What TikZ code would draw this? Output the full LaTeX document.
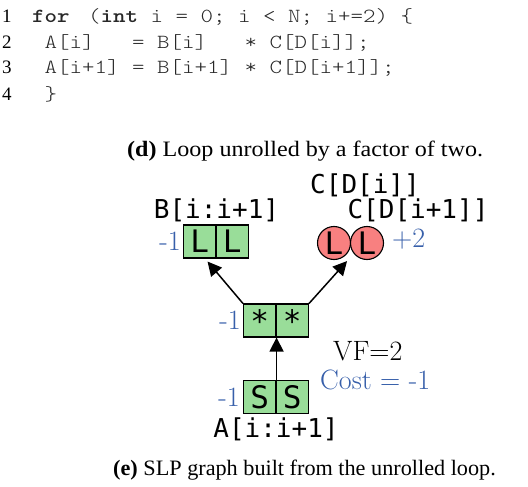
\documentclass[tikz,border=0pt]{standalone}
\usepackage{fontspec}
\usetikzlibrary{arrows.meta,calc}
\newfontfamily\capfont{Liberation Serif}
\newfontfamily\capfontd{Liberation Serif}[FakeStretch=1.095]
\newfontfamily\capfonte{Liberation Serif}[FakeStretch=1.01]
\newfontfamily\codefont{lmmonolt10-regular.otf}[BoldFont=lmmonolt10-bold.otf,FakeStretch=1.19]
\newfontfamily\lblfont{DejaVu Sans Mono}
\definecolor{lgreen}{RGB}{153,221,153}
\definecolor{lred}{RGB}{248,128,128}
\definecolor{cblue}{RGB}{55,95,170}
\definecolor{codegray}{RGB}{40,40,40}
\tikzset{
  gbox/.style={draw, fill=lgreen, line width=1.1pt, minimum width=32.5pt, minimum height=33pt, inner sep=0pt, font=\fontsize{31}{31}\lblfont},
  rcirc/.style={draw, circle, fill=lred, line width=1.1pt, minimum size=33pt, inner sep=0pt, font=\fontsize{31}{31}\lblfont},
  lbl/.style={inner sep=0pt, anchor=base, font=\fontsize{26}{26}\lblfont},
  cost/.style={inner sep=0pt, text=cblue, font=\fontsize{28}{28}\selectfont},
  codeline/.style={inner sep=0pt, anchor=base west, text=codegray, font=\fontsize{20}{20}\codefont},
  lnum/.style={inner sep=0pt, anchor=base west, font=\fontsize{19}{19}\capfont},
  arr/.style={line width=1.5pt, -{Triangle[length=14pt,width=14pt]}}
}
\begin{document}
\begin{tikzpicture}[x=1pt,y=-1pt]
\useasboundingbox (0,0) rectangle (528,487);
% code listing
\node[lnum] (n1) at (2,23) {1};
\node[lnum] (n2) at (2,49) {2};
\node[lnum] (n3) at (2,74) {3};
\node[lnum] (n4) at (2,100) {4};
\node[codeline] (c1) at (32,23) {\textbf{for}\hspace{6pt} (\textbf{int} i = 0; i < N; i+=2) \{};
\node[codeline] (c2) at (32,49) {\ A[i]\ \ \ = B[i]\ \ \ * C[D[i]];};
\node[codeline] (c3) at (32,74) {\ A[i+1] = B[i+1] * C[D[i+1]];};
\node[codeline] (c4) at (32,100) {\ \}};
\node[inner sep=0pt, anchor=base west, font=\fontsize{22}{22}\capfontd] (capd) at (127,157) {\textbf{(d)} Loop unrolled by a factor of two.};
% graph
\node[gbox] (L1) at (199.75,241.5) {L};
\node[gbox] (L2) at (232.25,241.5) {L};
\node[rcirc] (C1) at (334,243) {L};
\node[rcirc] (C2) at (367,243) {L};
\node[gbox] (M1) at (259.75,320.5) {*};
\node[gbox] (M2) at (292.25,320.5) {*};
\node[gbox] (S1) at (259.75,397) {S};
\node[gbox] (S2) at (292.25,397) {S};
\node[lbl] (tcd) at (365,193) {C[D[i]]};
\node[lbl] (tb) at (216.5,218) {B[i:i+1]};
\node[lbl] (tcd1) at (418,218) {C[D[i+1]]};
\node[lbl] (ta) at (276,437) {A[i:i+1]};
\node[cost, anchor=base east] (k1) at (181,250) {-1};
\node[cost, anchor=base west] (k2) at (392,247) {+2};
\node[cost, anchor=base east] (k3) at (241,329) {-1};
\node[cost, anchor=base east] (k4) at (240,406) {-1};
\node[cost, anchor=base west, text=black] (vf) at (333,360) {VF=2};
\node[cost, anchor=base west] (ct) at (320,389) {Cost = -1};
\draw[arr] (M1.north west) -- ($(L1.south east)+(-9,3)$);
\draw[arr] (M2.north east) -- ($(C1.south east)+(1,6)$);
\draw[arr] (S1.north east) -- (M1.south east);
\node[inner sep=0pt, anchor=base west, font=\fontsize{22}{22}\capfonte] (cape) at (113,475) {\textbf{(e)} SLP graph built from the unrolled loop.};
\end{tikzpicture}
\end{document}
